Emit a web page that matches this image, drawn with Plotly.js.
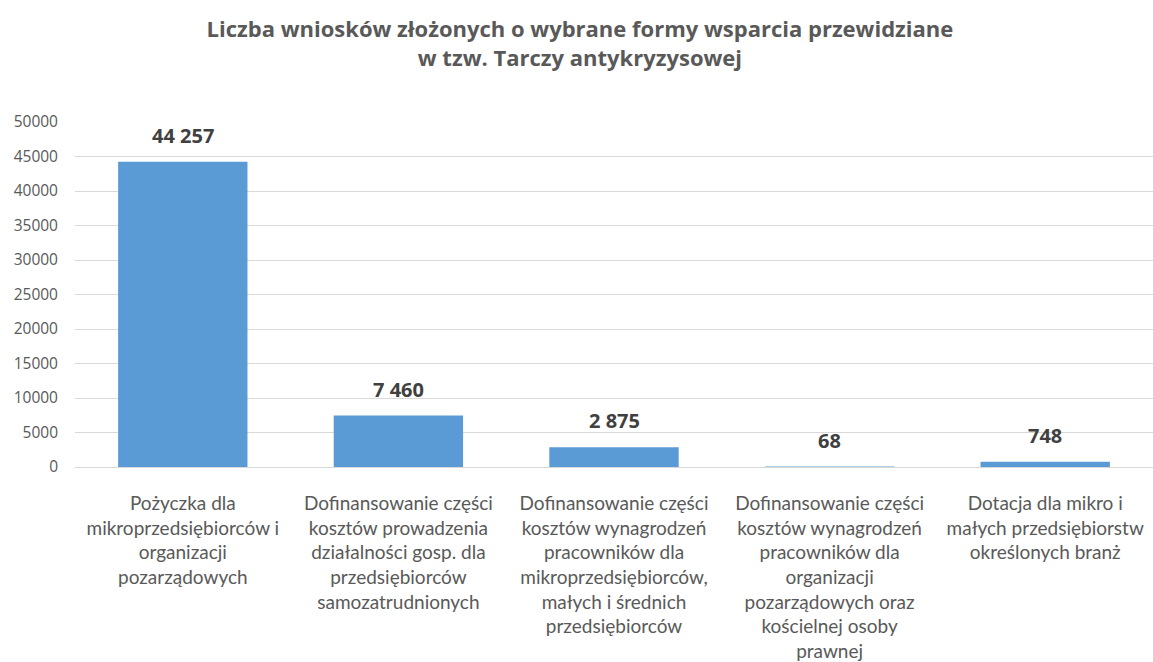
<!DOCTYPE html>
<html><head><meta charset="utf-8">
<script src="https://cdn.plot.ly/plotly-3.0.1.min.js"></script>
<style>html,body{margin:0;padding:0;background:#fff}#chart{width:1153px;height:662px}</style>
</head><body><div id="chart"></div>
<script>
const categories = [
  "Pożyczka dla<br>mikroprzedsiębiorców i<br>organizacji<br>pozarządowych",
  "Dofinansowanie części<br>kosztów prowadzenia<br>działalności gosp. dla<br>przedsiębiorców<br>samozatrudnionych",
  "Dofinansowanie części<br>kosztów wynagrodzeń<br>pracowników dla<br>mikroprzedsiębiorców,<br>małych i średnich<br>przedsiębiorców",
  "Dofinansowanie części<br>kosztów wynagrodzeń<br>pracowników dla<br>organizacji<br>pozarządowych oraz<br>kościelnej osoby<br>prawnej",
  "Dotacja dla mikro i<br>małych przedsiębiorstw<br>określonych branż"
];
const values = [44257, 7460, 2875, 68, 748];
const yTicks = [0, 5000, 10000, 15000, 20000, 25000, 30000, 35000, 40000, 45000, 50000];

const fmt = v => String(v).replace(/\B(?=(\d{3})+(?!\d))/g, " ");
const font = "'Open Sans', 'Noto Sans', sans-serif";
const labelFont = "Lato, 'Open Sans', sans-serif";

const trace = {
  type: "bar", x: categories, y: values,
  marker: {color: "#5B9BD5"}, width: 0.6, hoverinfo: "skip"
};
const annotations = categories.map((c, i) => ({
  x: c, y: values[i], xref: "x", yref: "y", text: "<b>" + fmt(values[i]) + "</b>",
  showarrow: false, yanchor: "bottom", yshift: 11,
  font: {family: font, size: 20, color: "#404040"}
}));
const layout = {
  width: 1153, height: 662,
  margin: {l: 75, r: 0, t: 122, b: 195},
  paper_bgcolor: "#fff", plot_bgcolor: "#fff",
  title: {text: "<b>Liczba wniosków złożonych o wybrane formy wsparcia przewidziane<br>w tzw. Tarczy antykryzysowej</b>",
    font: {family: font, size: 22, color: "#595959"}, x: 0.503, xanchor: "center", y: 0.944, yanchor: "top"},
  xaxis: {tickfont: {family: labelFont, size: 19, color: "#595959"}, showline: true, linecolor: "#D9D9D9", linewidth: 1,
    ticks: "", showgrid: false, fixedrange: true, ticklabelstandoff: 19, automargin: false},
  yaxis: {range: [0, 50000], tickvals: yTicks, ticktext: yTicks.map(String), showgrid: true, gridcolor: "#D9D9D9",
    zeroline: false, showline: false, ticks: "", tickfont: {family: font, size: 15.5, color: "#595959"}, ticklabelstandoff: 16},
  annotations: annotations, showlegend: false, bargap: 0.4
};
Plotly.newPlot("chart", [trace], layout, {displayModeBar: false, staticPlot: true});
</script></body></html>
